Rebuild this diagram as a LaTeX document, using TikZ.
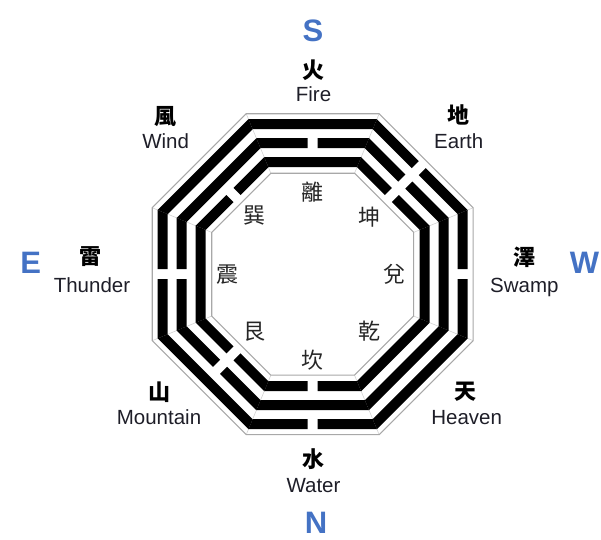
\documentclass[tikz,border=0pt]{standalone}
\usepackage{fontspec}
\setmainfont{Liberation Sans}
\newfontfamily\cjkfont{Noto Sans CJK TC}
\usepackage{xcolor}
\definecolor{compassblue}{HTML}{4472C4}
\definecolor{rimgray}{HTML}{A8A8A8}
\definecolor{labeldark}{HTML}{1E1E28}
\usepackage{tikz}
\usetikzlibrary{positioning}
\newcommand{\yaoSolid}[3]{% angle, inner apothem, outer apothem  (solid line)
  \fill[black, rotate=#1-90]
    (-#2*0.41421,#2) -- (#2*0.41421,#2) -- (#3*0.41421,#3) -- (-#3*0.41421,#3) -- cycle;
}
\newcommand{\yaoBroken}[3]{% angle, inner apothem, outer apothem  (broken line)
  \fill[black, rotate=#1-90]
    (-#2*0.41421,#2) -- (-5,#2) -- (-5,#3) -- (-#3*0.41421,#3) -- cycle
    (5,#2) -- (#2*0.41421,#2) -- (#3*0.41421,#3) -- (5,#3) -- cycle;
}
\newcommand{\yao}[4]{% angle, inner, outer, 1 = solid
  \ifnum#4=1 \yaoSolid{#1}{#2}{#3}\else \yaoBroken{#1}{#2}{#3}\fi
}
\newcommand{\trigram}[4]{% angle, bottom (inner), middle, top (outer)
  \yao{#1}{107}{117}{#2}
  \yao{#1}{126}{136}{#3}
  \yao{#1}{145}{155}{#4}
}
\tikzset{
  compass/.style={font=\bfseries\fontsize{31}{31}\selectfont, text=compassblue, inner sep=0pt},
  guachar/.style={font=\cjkfont\bfseries\fontsize{22}{22}\selectfont, text=black, inner sep=0pt},
  guaname/.style={font=\fontsize{20.5}{22}\selectfont, text=labeldark, inner sep=0pt, anchor=base},
  innerchar/.style={font=\cjkfont\fontsize{22}{22}\selectfont, text=black!85, inner sep=0pt},
  rim/.style={rimgray, line width=1.1pt, line join=miter},
  seam/.style={gray!35, line width=0.6pt},
}
\begin{document}
\begin{tikzpicture}[x=1pt, y=1pt]
  \useasboundingbox (-312.7,-264.8) rectangle (288.3,274.2);

  % seams between the eight sides
  \foreach \a in {22.5,67.5,...,337.5} {
    \draw[seam] (\a:109.3) -- (\a:173.7);
  }
  % outer and inner rim
  \draw[rim] (22.5:173.7) \foreach \a in {67.5,112.5,...,337.5} { -- (\a:173.7) } -- cycle;
  \draw[rim] (22.5:109.3) \foreach \a in {67.5,112.5,...,337.5} { -- (\a:109.3) } -- cycle;

  % trigrams: angle, inner, middle, outer line
  \trigram{90}{1}{0}{1}    % Li
  \trigram{45}{0}{0}{0}    % Kun
  \trigram{0}{1}{1}{0}     % Dui
  \trigram{-45}{1}{1}{1}   % Qian
  \trigram{-90}{0}{1}{0}   % Kan
  \trigram{-135}{0}{0}{1}  % Gen
  \trigram{180}{1}{0}{0}   % Zhen
  \trigram{135}{0}{1}{1}   % Xun

  % names inside the octagon
  \node[innerchar] (li)   at (90:82)   {離};
  \node[innerchar] (kun)  at (45:80)   {坤};
  \node[innerchar] (dui)  at (0:82)    {兌};
  \node[innerchar] (qian) at (-45:81)  {乾};
  \node[innerchar] (kan)  at (-90:86)  {坎};
  \node[innerchar] (gen)  at (-135:82) {艮};
  \node[innerchar] (zhen) at (180:85)  {震};
  \node[innerchar] (xun)  at (135:83)  {巽};

  % elements outside
  \node[guachar] (fire)     at (0.8,203.7)    {火};
  \node[guaname] (firename) at (0.8,173.2)    {Fire};
  \node[guachar] (earth)     at (146,159)     {地};
  \node[guaname] (earthname) at (146,125.7)   {Earth};
  \node[guachar] (swamp)     at (211.3,17)    {澤};
  \node[guaname] (swampname) at (211.6,-17.8) {Swamp};
  \node[guachar] (heaven)     at (153,-118)    {天};
  \node[guaname] (heavenname) at (154,-150.3)  {Heaven};
  \node[guachar] (water)     at (0.8,-185)     {水};
  \node[guaname] (watername) at (0.8,-218)     {Water};
  \node[guachar] (mountain)     at (-152.7,-118)  {山};
  \node[guaname] (mountainname) at (-153.7,-150.3) {Mountain};
  \node[guachar] (thunder)     at (-221.7,18)    {雷};
  \node[guaname] (thundername) at (-220.7,-17.8) {Thunder};
  \node[guachar] (wind)     at (-147,158)    {風};
  \node[guaname] (windname) at (-147,125.7)  {Wind};

  % compass
  \node[compass] (south) at (0.3,243.2)   {S};
  \node[compass] (north) at (3.3,-248.5)  {N};
  \node[compass] (east)  at (-282,11.2)   {E};
  \node[compass] (west)  at (271.8,11.2)  {W};
\end{tikzpicture}
\end{document}
